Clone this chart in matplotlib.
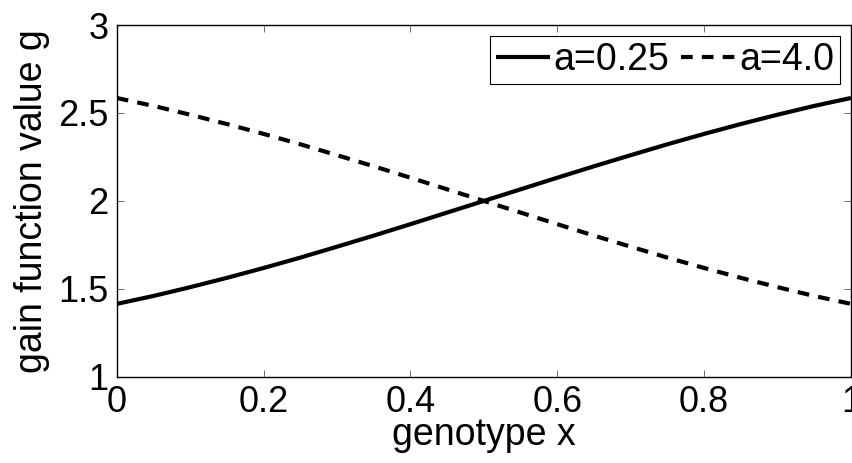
import matplotlib
matplotlib.use("Agg")
import matplotlib.pyplot as plt

# values
x = [0.0, 0.05, 0.1, 0.15, 0.2, 0.25, 0.3, 0.35, 0.4, 0.45, 0.5,
     0.55, 0.6, 0.65, 0.7, 0.75, 0.8, 0.85, 0.9, 0.95, 1.0]
g_a025 = [1.415, 1.46, 1.51, 1.563, 1.619, 1.678, 1.74, 1.803, 1.868, 1.934, 2.0,
          2.066, 2.132, 2.197, 2.26, 2.322, 2.381, 2.437, 2.49, 2.54, 2.585]
g_a4 = [2.585, 2.54, 2.49, 2.437, 2.381, 2.322, 2.26, 2.197, 2.132, 2.066, 2.0,
        1.934, 1.868, 1.803, 1.74, 1.678, 1.619, 1.563, 1.51, 1.46, 1.415]
labels = ["a=0.25", "a=4.0"]
xticks = [0, 0.2, 0.4, 0.6, 0.8, 1]
yticks = [1, 1.5, 2, 2.5, 3]

plt.rcParams['font.family'] = ['Liberation Sans', 'DejaVu Sans']

fig = plt.figure(figsize=(8.53, 4.63), dpi=100)
ax = fig.add_axes([0.137, 0.186, 0.8605, 0.760])

ax.plot(x, g_a025, color='black', lw=3, solid_capstyle='butt', label=labels[0])
ax.plot(x, g_a4, color='black', lw=3, dashes=(2.8, 2.2), dash_capstyle='butt', label=labels[1])

ax.set_xlim(0, 1)
ax.set_ylim(1, 3)
ax.set_xticks(xticks)
ax.set_xticklabels(['0', '0.2', '0.4', '0.6', '0.8', '1'])
ax.set_yticks(yticks)
ax.set_yticklabels(['1', '1.5', '2', '2.5', '3'])
ax.tick_params(direction='in', length=5, width=0.6, color='#555555',
               top=True, right=True, labelsize=26, pad=6)
for s in ax.spines.values():
    s.set_linewidth(1.0)

ax.set_xlabel('genotype x', fontsize=27, labelpad=-2)
ax.set_ylabel('gain function value g', fontsize=27, labelpad=6)

leg = ax.legend(loc='upper right', ncol=2, fontsize=27, fancybox=False,
                edgecolor='black', framealpha=1, handlelength=1.45,
                handletextpad=0.1, columnspacing=0.3, borderpad=0.15,
                borderaxespad=0.3)
leg.get_frame().set_linewidth(0.8)

fig.savefig('out.png', dpi=100)
